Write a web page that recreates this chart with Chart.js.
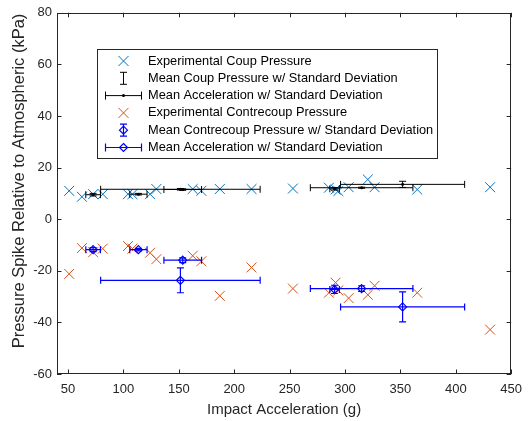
<!DOCTYPE html>
<html>
<head>
<meta charset="utf-8">
<script src="https://cdn.jsdelivr.net/npm/chart.js@4"></script>
<style>
  html, body { margin: 0; padding: 0; background: #fff; }
  #wrap { position: relative; width: 530px; height: 421px; }
</style>
</head>
<body>
<div id="wrap"><canvas id="chart" width="530" height="421"></canvas></div>
<script>
// individual impacts
const accel  = [51, 62.5, 72.6, 81.3, 104.1, 108.1, 124, 129.7, 162.5, 170.3, 187, 215.6, 253, 285.5, 291.5, 294, 303.3, 320.6, 326.7, 365.2, 431];
const coup   = [11.0, 8.7, 9.7, 9.7, 9.7, 9.7, 9.7, 11.7, 11.7, 11.0, 11.7, 11.7, 11.9, 12.2, 11.5, 10.9, 12.4, 15.4, 12.4, 11.5, 12.4];
const contre = [-21.2, -11.2, -12.8, -11.4, -10.4, -11.4, -13.0, -15.5, -14.2, -16.3, -29.7, -18.7, -26.9, -28.5, -24.6, -27.6, -30.6, -29.3, -25.8, -28.5, -42.8];

// group means and standard deviations
const meanAccel  = [72.6, 113.5, 153.5, 151.4, 290.6, 315, 352];
const sdAccel    = [6.6, 7.8, 17, 72, 4.3, 46.3, 56];
const meanCoup   = [9.5, 9.7, 11.5, 11.6, 11.8, 12.2, 13.5];
const sdCoup     = [0.5, 0.3, 0.3, 0.3, 0.5, 0.2, 1.2];
const meanContre = [-11.8, -11.8, -15.9, -23.7, -27.2, -26.9, -34];
const sdContre   = [0.8, 0.5, 0.9, 4.8, 1.6, 1.1, 5.8];

const xTicks = [50, 100, 150, 200, 250, 300, 350, 400, 450];
const yTicks = [-60, -40, -20, 0, 20, 40, 60, 80];

const yTitle = 'Pressure Spike Relative to Atmospheric (kPa)';
const legendLabels = [
    'Experimental Coup Pressure',
    'Mean Coup Pressure w/ Standard Deviation',
    'Mean Acceleration w/ Standard Deviation',
    'Experimental Contrecoup Pressure',
    'Mean Contrecoup Pressure w/ Standard Deviation',
    'Mean Acceleration w/ Standard Deviation'
];

const FONT = '"Liberation Sans", Arial, Helvetica, sans-serif';
const AXIS = '#262626';
const C_COUP = '#0072BD';
const C_CONTRE = '#D95319';
const C_MEAN2 = '#0000FF';

function diamond(ctx, x, y, r) {
    ctx.beginPath();
    ctx.moveTo(x, y - r);
    ctx.lineTo(x + r, y);
    ctx.lineTo(x, y + r);
    ctx.lineTo(x - r, y);
    ctx.closePath();
    ctx.stroke();
}

function hBar(ctx, x1, x2, y, cap) {
    ctx.beginPath();
    ctx.moveTo(x1, y); ctx.lineTo(x2, y);
    ctx.moveTo(x1, y - cap); ctx.lineTo(x1, y + cap);
    ctx.moveTo(x2, y - cap); ctx.lineTo(x2, y + cap);
    ctx.stroke();
}

function vBar(ctx, x, y1, y2, cap) {
    ctx.beginPath();
    ctx.moveTo(x, y1); ctx.lineTo(x, y2);
    ctx.moveTo(x - cap, y1); ctx.lineTo(x + cap, y1);
    ctx.moveTo(x - cap, y2); ctx.lineTo(x + cap, y2);
    ctx.stroke();
}

function cross(ctx, x, y, h) {
    ctx.beginPath();
    ctx.moveTo(x - h, y - h); ctx.lineTo(x + h, y + h);
    ctx.moveTo(x - h, y + h); ctx.lineTo(x + h, y - h);
    ctx.stroke();
}

const errorBars = {
    id: 'errorBars',
    afterDatasetsDraw(chart) {
        const ctx = chart.ctx;
        const xs = chart.scales.x, ys = chart.scales.y;
        ctx.save();
        ctx.lineWidth = 1;
        // coup means (black)
        ctx.strokeStyle = '#000';
        meanAccel.forEach((m, i) => {
            const px = xs.getPixelForValue(m);
            const py = ys.getPixelForValue(meanCoup[i]);
            hBar(ctx, xs.getPixelForValue(m - sdAccel[i]), xs.getPixelForValue(m + sdAccel[i]), py, 3.5);
            vBar(ctx, px, ys.getPixelForValue(meanCoup[i] + sdCoup[i]), ys.getPixelForValue(meanCoup[i] - sdCoup[i]), 3.5);
            ctx.fillStyle = '#000';
            ctx.beginPath(); ctx.arc(px, py, 1.5, 0, Math.PI * 2); ctx.fill();
        });
        // contrecoup means (blue)
        ctx.strokeStyle = C_MEAN2;
        ctx.lineWidth = 1.2;
        meanAccel.forEach((m, i) => {
            const px = xs.getPixelForValue(m);
            const py = ys.getPixelForValue(meanContre[i]);
            hBar(ctx, xs.getPixelForValue(m - sdAccel[i]), xs.getPixelForValue(m + sdAccel[i]), py, 3.5);
            vBar(ctx, px, ys.getPixelForValue(meanContre[i] + sdContre[i]), ys.getPixelForValue(meanContre[i] - sdContre[i]), 3.5);
            diamond(ctx, px, py, 4);
        });
        ctx.restore();
    }
};

const frame = {
    id: 'frame',
    afterDraw(chart) {
        const ctx = chart.ctx;
        const a = chart.chartArea;
        const xs = chart.scales.x, ys = chart.scales.y;
        ctx.save();
        ctx.strokeStyle = AXIS;
        ctx.lineWidth = 1;
        ctx.strokeRect(Math.round(a.left) + 0.5, Math.round(a.top) + 0.5, Math.round(a.right - a.left) - 1, Math.round(a.bottom - a.top) - 1);
        const tl = 4.5;
        ctx.beginPath();
        xTicks.forEach(v => {
            const px = Math.round(xs.getPixelForValue(v)) + 0.5;
            ctx.moveTo(px, a.bottom); ctx.lineTo(px, a.bottom - tl);
            ctx.moveTo(px, a.top); ctx.lineTo(px, a.top + tl);
        });
        yTicks.forEach(v => {
            const py = Math.round(ys.getPixelForValue(v)) + 0.5;
            ctx.moveTo(a.left, py); ctx.lineTo(a.left + tl, py);
            ctx.moveTo(a.right, py); ctx.lineTo(a.right - tl, py);
        });
        ctx.stroke();

        // y axis title
        ctx.save();
        ctx.translate(19, 181);
        ctx.rotate(-Math.PI / 2);
        ctx.fillStyle = AXIS;
        ctx.font = '16.5px ' + FONT;
        ctx.textAlign = 'center';
        ctx.textBaseline = 'middle';
        ctx.fillText(yTitle, 0, 0);
        ctx.restore();

        // legend
        const L = 97.5, T = 49.5, W = 340, H = 109;
        ctx.fillStyle = '#fff';
        ctx.fillRect(L, T, W, H);
        ctx.strokeStyle = AXIS;
        ctx.strokeRect(L, T, W, H);
        const gx = 123.5, tx = 148, row0 = 61, dy = 17.3;
        ctx.font = '12.8px ' + FONT;
        ctx.textBaseline = 'middle';
        ctx.textAlign = 'left';
        legendLabels.forEach((t, i) => {
            const y = row0 + i * dy;
            ctx.fillStyle = '#000';
            ctx.fillText(t, tx, y);
            ctx.lineWidth = 1;
            if (i === 0) { ctx.strokeStyle = C_COUP; cross(ctx, gx, y, 5); }
            if (i === 1) { ctx.strokeStyle = '#000'; vBar(ctx, gx, y - 6, y + 6, 3.5); }
            if (i === 2) {
                ctx.strokeStyle = '#000'; hBar(ctx, gx - 18, gx + 18, y, 4);
                ctx.fillStyle = '#000'; ctx.beginPath(); ctx.arc(gx, y, 1.5, 0, Math.PI * 2); ctx.fill();
            }
            if (i === 3) { ctx.strokeStyle = C_CONTRE; cross(ctx, gx, y, 5); }
            if (i === 4) { ctx.strokeStyle = C_MEAN2; ctx.lineWidth = 1.2; vBar(ctx, gx, y - 6, y + 6, 3.5); diamond(ctx, gx, y, 4); }
            if (i === 5) { ctx.strokeStyle = C_MEAN2; ctx.lineWidth = 1.2; hBar(ctx, gx - 18, gx + 18, y, 4); diamond(ctx, gx, y, 4); }
        });
        ctx.restore();
    }
};

new Chart(document.getElementById('chart'), {
    type: 'scatter',
    data: {
        datasets: [
            {
                label: 'Experimental Coup Pressure',
                data: accel.map((x, i) => ({ x: x, y: coup[i] })),
                pointStyle: 'crossRot',
                radius: 7,
                borderColor: C_COUP,
                borderWidth: 1,
                showLine: false
            },
            {
                label: 'Experimental Contrecoup Pressure',
                data: accel.map((x, i) => ({ x: x, y: contre[i] })),
                pointStyle: 'crossRot',
                radius: 7,
                borderColor: C_CONTRE,
                borderWidth: 1,
                showLine: false
            }
        ]
    },
    options: {
        responsive: false,
        animation: false,
        devicePixelRatio: 1,
        layout: { padding: { top: 10, right: 18, left: 0, bottom: 0 } },
        plugins: { legend: { display: false }, tooltip: { enabled: false } },
        scales: {
            x: {
                type: 'linear',
                min: 40, max: 450,
                afterBuildTicks: s => { s.ticks = xTicks.map(v => ({ value: v })); },
                afterFit: s => { s.height = 47; },
                grid: { display: false, drawTicks: false },
                border: { display: false },
                ticks: { color: AXIS, font: { family: FONT, size: 13 }, padding: 8 },
                title: { display: true, text: 'Impact Acceleration (g)', color: AXIS, font: { family: FONT, size: 15 }, padding: { top: 2, bottom: 2 } }
            },
            y: {
                type: 'linear',
                min: -60, max: 80,
                afterBuildTicks: s => { s.ticks = yTicks.map(v => ({ value: v })); },
                afterFit: s => { s.width = 57; },
                grid: { display: false, drawTicks: false },
                border: { display: false },
                ticks: { color: AXIS, font: { family: FONT, size: 13 }, padding: 5 },
                title: { display: false }
            }
        }
    },
    plugins: [errorBars, frame]
});
</script>
</body>
</html>
